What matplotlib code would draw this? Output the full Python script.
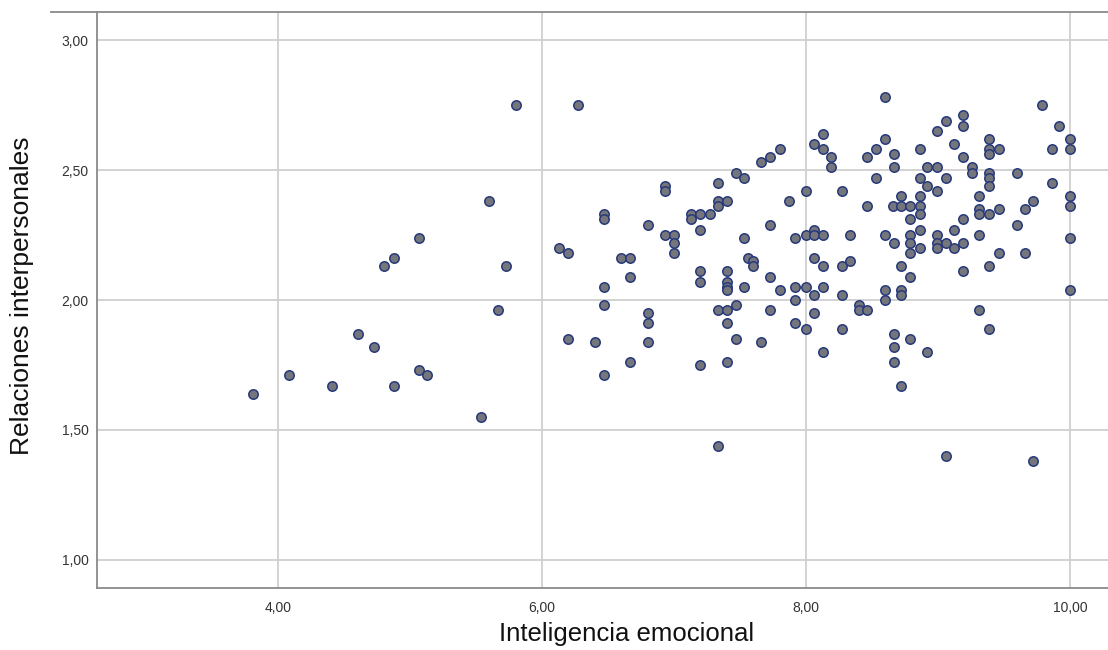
import matplotlib
matplotlib.use("Agg")
import matplotlib.pyplot as plt
from matplotlib.lines import Line2D

# Inteligencia emocional (x) and Relaciones interpersonales (y)
x_vals = [
    5.80, 6.27, 5.60, 5.07, 4.88, 4.80, 5.73, 6.13, 6.20, 5.67, 4.61, 4.73, 6.20, 6.40,
    4.08, 3.81, 4.41, 4.88, 5.07, 5.13, 5.54,
    6.93, 6.93, 6.47, 6.47, 7.13, 7.13, 6.80, 7.20, 6.93, 7.00, 7.00, 7.00, 6.60, 6.67,
    6.67, 6.47, 6.47, 6.80, 6.80, 6.80, 6.67, 6.47, 7.20, 7.20, 7.20,
    7.80, 7.73, 7.66, 8.06, 8.13, 8.19, 8.19, 7.47, 7.53, 7.33, 8.00, 8.27, 7.87, 7.33,
    7.33, 7.40, 7.20, 7.27, 7.53, 7.73, 7.92, 8.00, 8.06, 8.06, 8.13, 7.56, 7.60, 7.60,
    8.06, 8.13, 8.27, 7.40, 7.40, 7.40, 7.40, 7.53, 7.73, 7.80, 7.92, 8.00, 8.13, 8.06,
    8.27, 7.92, 7.33, 7.40, 7.47, 7.73, 8.06, 7.40, 7.92, 8.00, 8.27, 7.47, 7.66, 8.13,
    7.40, 8.13, 7.33,
    8.60, 9.19, 9.19, 9.06, 8.99, 8.60, 8.53, 8.46, 8.67, 8.86, 9.12, 9.19, 8.67, 8.92,
    8.99, 8.53, 8.86, 9.06, 8.92, 8.99, 8.72, 8.86, 8.46, 8.66, 8.72, 8.79, 8.86, 8.86,
    8.79, 9.19, 8.86, 9.12, 8.33, 8.60, 8.79, 8.99, 8.67, 8.79, 8.99, 9.06, 9.19, 8.86,
    8.99, 9.12,
    8.79, 8.33, 8.72, 8.79, 9.19, 8.60, 8.60, 8.72, 8.72, 8.40, 8.40, 8.46, 8.67, 8.67,
    8.67, 8.79, 8.92, 8.72,
    9.79, 9.92, 10.00, 10.00, 9.86, 9.39, 9.39, 9.39, 9.46, 9.26, 9.26, 9.39, 9.39, 9.39,
    9.60, 9.86, 9.31, 9.72, 9.66, 10.00, 10.00, 9.31, 9.31, 9.39, 9.46, 9.60, 9.31, 10.00,
    9.46, 9.66,
    9.39, 10.00, 9.31, 9.39, 9.72, 9.06,
]
y_vals = [
    2.75, 2.75, 2.38, 2.24, 2.16, 2.13, 2.13, 2.20, 2.18, 1.96, 1.87, 1.82, 1.85, 1.84,
    1.71, 1.64, 1.67, 1.67, 1.73, 1.71, 1.55,
    2.44, 2.42, 2.33, 2.31, 2.33, 2.31, 2.29, 2.27, 2.25, 2.25, 2.22, 2.18, 2.16, 2.16,
    2.09, 2.05, 1.98, 1.95, 1.91, 1.84, 1.76, 1.71, 2.11, 2.07, 1.75,
    2.58, 2.55, 2.53, 2.60, 2.58, 2.55, 2.51, 2.49, 2.47, 2.45, 2.42, 2.42, 2.38, 2.38,
    2.36, 2.38, 2.33, 2.33, 2.24, 2.29, 2.24, 2.25, 2.27, 2.25, 2.25, 2.16, 2.15, 2.13,
    2.16, 2.13, 2.13, 2.11, 2.07, 2.05, 2.04, 2.05, 2.09, 2.04, 2.05, 2.05, 2.05, 2.02,
    2.02, 2.00, 1.96, 1.96, 1.98, 1.96, 1.95, 1.91, 1.91, 1.89, 1.89, 1.85, 1.84, 1.80,
    1.76, 2.64, 1.44,
    2.78, 2.71, 2.67, 2.69, 2.65, 2.62, 2.58, 2.55, 2.56, 2.58, 2.60, 2.55, 2.51, 2.51,
    2.51, 2.47, 2.47, 2.47, 2.44, 2.42, 2.40, 2.40, 2.36, 2.36, 2.36, 2.36, 2.36, 2.33,
    2.31, 2.31, 2.27, 2.27, 2.25, 2.25, 2.25, 2.25, 2.22, 2.22, 2.22, 2.22, 2.22, 2.20,
    2.20, 2.20,
    2.18, 2.15, 2.13, 2.09, 2.11, 2.04, 2.00, 2.04, 2.02, 1.98, 1.96, 1.96, 1.87, 1.82,
    1.76, 1.85, 1.80, 1.67,
    2.75, 2.67, 2.62, 2.58, 2.58, 2.62, 2.58, 2.56, 2.58, 2.51, 2.49, 2.49, 2.47, 2.44,
    2.49, 2.45, 2.40, 2.38, 2.35, 2.40, 2.36, 2.35, 2.33, 2.33, 2.35, 2.29, 2.25, 2.24,
    2.18, 2.18,
    2.13, 2.04, 1.96, 1.89, 1.38, 1.40,
]

x_ticks = [4, 6, 8, 10]
x_tick_labels = ["4,00", "6,00", "8,00", "10,00"]
y_ticks = [1.0, 1.5, 2.0, 2.5, 3.0]
y_tick_labels = ["1,00", "1,50", "2,00", "2,50", "3,00"]
x_label = "Inteligencia emocional"
y_label = "Relaciones interpersonales"

plt.rcParams['font.family'] = ['Liberation Sans', 'DejaVu Sans']

W, H = 1108, 650
fig = plt.figure(figsize=(W / 100, H / 100), dpi=100)
fig.patch.set_facecolor("white")

left_px, right_px, top_px, bottom_px = 97, 1108, 12, 588
ax = fig.add_axes([left_px / W, 1 - bottom_px / H,
                   (right_px - left_px) / W, (bottom_px - top_px) / H])

ax.scatter(x_vals, y_vals, s=46, facecolor="#74767c", edgecolor="#27397a",
           linewidths=1.1, zorder=3)

ax.set_xlim(2.629, 10.288)
ax.set_ylim(0.892, 3.108)
ax.set_xticks(x_ticks)
ax.set_xticklabels(x_tick_labels)
ax.set_yticks(y_ticks)
ax.set_yticklabels(y_tick_labels)
ax.tick_params(axis="both", length=0, labelsize=10, colors="#333333")
ax.tick_params(axis="x", pad=9)
ax.tick_params(axis="y", pad=6)

ax.grid(True, color="#cfcfcf", linewidth=1.3, zorder=0)
ax.set_axisbelow(True)

for side in ["top", "right"]:
    ax.spines[side].set_visible(False)
for side in ["left", "bottom"]:
    ax.spines[side].set_color("#8a8a8a")
    ax.spines[side].set_linewidth(1.3)

# top frame line of the chart
fig.add_artist(Line2D([51 / W, 1.0], [1 - 11.7 / H, 1 - 11.7 / H],
                      color="#8a8a8a", linewidth=1.3))

fig.text(627 / W, 1 - 634 / H, x_label, ha="center", va="center",
         fontsize=18.5, color="#111111")
fig.text(22 / W, 1 - 296 / H, y_label, ha="center", va="center",
         rotation=90, fontsize=19, color="#111111")

fig.savefig("out.png", dpi=100)
